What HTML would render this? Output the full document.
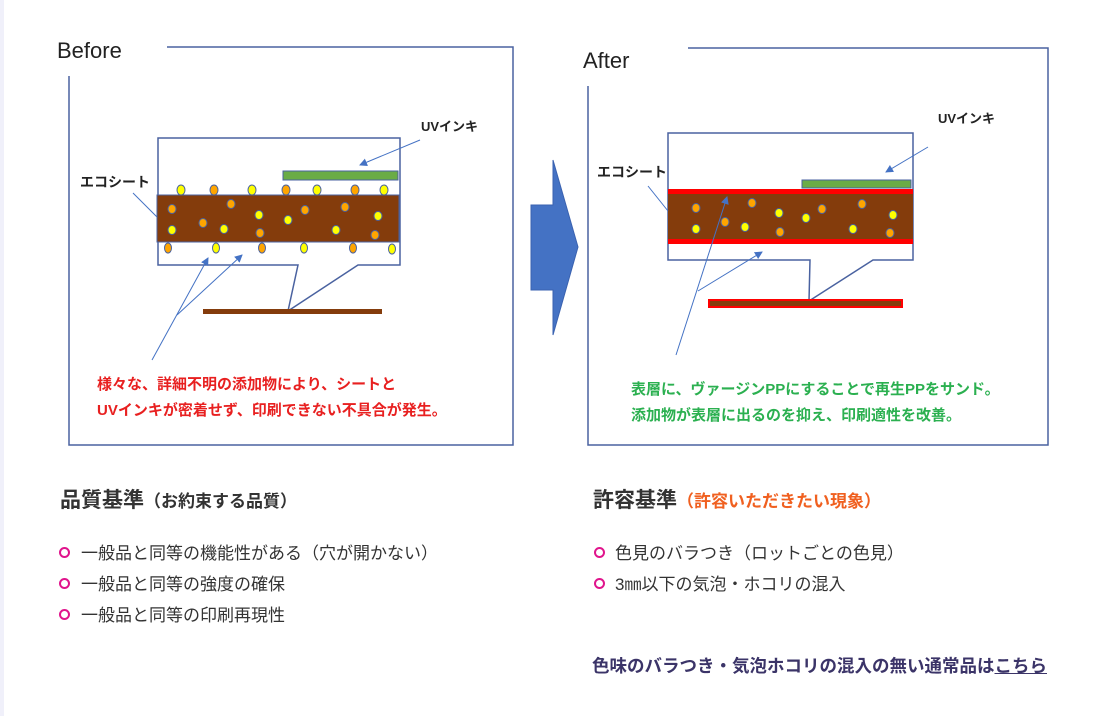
<!DOCTYPE html>
<html><head><meta charset="utf-8"><style>
html,body{margin:0;padding:0;background:#fff;}
body{width:1104px;height:716px;position:relative;overflow:hidden;font-family:"Liberation Sans","Noto Sans CJK JP",sans-serif;}
.strip{position:absolute;left:0;top:0;width:4px;height:716px;background:#f0f0fa;}
svg{position:absolute;left:0;top:0;}
.h{position:absolute;font-size:21px;font-weight:bold;color:#333;white-space:nowrap;}
.h span{font-size:17px;}
.li{position:absolute;font-size:17px;color:#333;white-space:nowrap;}
.b{position:absolute;width:7px;height:7px;border:2px solid #e0148c;border-radius:50%;}
</style></head><body>
<div class="strip"></div>
<svg width="1104" height="716" xmlns="http://www.w3.org/2000/svg" font-family="Liberation Sans, Noto Sans CJK JP, sans-serif">
<defs><marker id="a" markerWidth="8" markerHeight="8" refX="7" refY="4" orient="auto" markerUnits="userSpaceOnUse"><path d="M0,0 L8,4 L0,8z" fill="#4472c4"/></marker></defs>
<polyline points="167,47 513,47 513,445 69,445 69,76" fill="none" stroke="#4a62a0" stroke-width="1.5"/>
<text x="57" y="58" font-size="22" fill="#222">Before</text>
<polygon points="158,138 400,138 400,265 358,265 288,311 298,265 158,265" fill="#fff" stroke="#4a62a0" stroke-width="1.5"/>
<rect x="283" y="171" width="115" height="9" fill="#6aac46" stroke="#4a62a0" stroke-width="1"/>
<rect x="157" y="195" width="242" height="47" fill="#843c0c" stroke="#4a62a0" stroke-width="1"/>
<rect x="203" y="309" width="179" height="5" fill="#843c0c"/>
<g stroke="#4a62a0" stroke-width="1">
<ellipse cx="181" cy="190" rx="4" ry="5" fill="#ffff00"/><ellipse cx="214" cy="190" rx="4" ry="5" fill="#ffa500"/><ellipse cx="252" cy="190" rx="4" ry="5" fill="#ffff00"/><ellipse cx="286" cy="190" rx="4" ry="5" fill="#ffa500"/><ellipse cx="317" cy="190" rx="4" ry="5" fill="#ffff00"/><ellipse cx="355" cy="190" rx="4" ry="5" fill="#ffa500"/><ellipse cx="384" cy="190" rx="4" ry="5" fill="#ffff00"/>
<ellipse cx="172" cy="209" rx="4" ry="4.5" fill="#ffa500"/><ellipse cx="231" cy="204" rx="4" ry="4.5" fill="#ffa500"/><ellipse cx="172" cy="230" rx="4" ry="4.5" fill="#ffff00"/><ellipse cx="203" cy="223" rx="4" ry="4.5" fill="#ffa500"/><ellipse cx="224" cy="229" rx="4" ry="4.5" fill="#ffff00"/><ellipse cx="259" cy="215" rx="4" ry="4.5" fill="#ffff00"/><ellipse cx="260" cy="233" rx="4" ry="4.5" fill="#ffa500"/><ellipse cx="288" cy="220" rx="4" ry="4.5" fill="#ffff00"/><ellipse cx="305" cy="210" rx="4" ry="4.5" fill="#ffa500"/><ellipse cx="345" cy="207" rx="4" ry="4.5" fill="#ffa500"/><ellipse cx="336" cy="230" rx="4" ry="4.5" fill="#ffff00"/><ellipse cx="378" cy="216" rx="4" ry="4.5" fill="#ffff00"/><ellipse cx="375" cy="235" rx="4" ry="4.5" fill="#ffa500"/>
<ellipse cx="168" cy="248" rx="3.5" ry="5" fill="#ffa500"/><ellipse cx="216" cy="248" rx="3.5" ry="5" fill="#ffff00"/><ellipse cx="262" cy="248" rx="3.5" ry="5" fill="#ffa500"/><ellipse cx="304" cy="248" rx="3.5" ry="5" fill="#ffff00"/><ellipse cx="353" cy="248" rx="3.5" ry="5" fill="#ffa500"/><ellipse cx="392" cy="249" rx="3.5" ry="5" fill="#ffff00"/>
</g>
<g stroke="#4472c4" stroke-width="1" fill="none">
<line x1="420" y1="140" x2="360" y2="165" marker-end="url(#a)"/>
<line x1="133" y1="193" x2="157" y2="217"/>
<line x1="152" y1="360" x2="208" y2="258" marker-end="url(#a)"/>
<line x1="177" y1="315" x2="242" y2="255" marker-end="url(#a)"/>
</g>
<text x="421" y="131" font-size="13" font-weight="bold" fill="#222">UVインキ</text>
<text x="80" y="187" font-size="14" font-weight="bold" fill="#222">エコシート</text>
<text x="97" y="389" font-size="15" font-weight="bold" fill="#e82020">様々な、詳細不明の添加物により、シートと</text>
<text x="97" y="415" font-size="15" font-weight="bold" fill="#e82020">UVインキが密着せず、印刷できない不具合が発生。</text>
<polygon points="531,205 553,205 553,160 578,247 553,335 553,290 531,290" fill="#4472c4" stroke="#3a62b0"/>
<polyline points="688,48 1048,48 1048,445 588,445 588,86" fill="none" stroke="#4a62a0" stroke-width="1.5"/>
<text x="583" y="68" font-size="22" fill="#222">After</text>
<polygon points="668,133 913,133 913,260 873,260 809,301 810,260 668,260" fill="#fff" stroke="#4a62a0" stroke-width="1.5"/>
<rect x="802" y="180" width="109" height="8" fill="#6aac46" stroke="#4a62a0" stroke-width="1"/>
<rect x="668" y="194" width="245" height="45" fill="#843c0c"/>
<rect x="668" y="189" width="245" height="5" fill="#ff0000"/>
<rect x="668" y="239" width="245" height="5" fill="#ff0000"/>
<rect x="708" y="299" width="195" height="9" fill="#ff0000"/>
<rect x="710" y="301" width="191" height="5" fill="#843c0c"/>
<g stroke="#4a62a0" stroke-width="1">
<ellipse cx="696" cy="208" rx="4" ry="4.5" fill="#ffa500"/><ellipse cx="752" cy="203" rx="4" ry="4.5" fill="#ffa500"/><ellipse cx="696" cy="229" rx="4" ry="4.5" fill="#ffff00"/><ellipse cx="725" cy="222" rx="4" ry="4.5" fill="#ffa500"/><ellipse cx="745" cy="227" rx="4" ry="4.5" fill="#ffff00"/><ellipse cx="779" cy="213" rx="4" ry="4.5" fill="#ffff00"/><ellipse cx="780" cy="232" rx="4" ry="4.5" fill="#ffa500"/><ellipse cx="806" cy="218" rx="4" ry="4.5" fill="#ffff00"/><ellipse cx="822" cy="209" rx="4" ry="4.5" fill="#ffa500"/><ellipse cx="862" cy="204" rx="4" ry="4.5" fill="#ffa500"/><ellipse cx="853" cy="229" rx="4" ry="4.5" fill="#ffff00"/><ellipse cx="893" cy="215" rx="4" ry="4.5" fill="#ffff00"/><ellipse cx="890" cy="233" rx="4" ry="4.5" fill="#ffa500"/>
</g>
<g stroke="#4472c4" stroke-width="1" fill="none">
<line x1="928" y1="147" x2="886" y2="172" marker-end="url(#a)"/>
<line x1="648" y1="186" x2="668" y2="211"/>
<line x1="676" y1="355" x2="727" y2="197" marker-end="url(#a)"/>
<line x1="698" y1="291" x2="762" y2="252" marker-end="url(#a)"/>
</g>
<text x="938" y="123" font-size="13" font-weight="bold" fill="#222">UVインキ</text>
<text x="597" y="177" font-size="14" font-weight="bold" fill="#222">エコシート</text>
<text x="631" y="394" font-size="15" font-weight="bold" fill="#2bb050">表層に、ヴァージンPPにすることで再生PPをサンド。</text>
<text x="631" y="420" font-size="15" font-weight="bold" fill="#2bb050">添加物が表層に出るのを抑え、印刷適性を改善。</text>
</svg>
<div class="h" style="left:60px;top:484px;">品質基準<span>（お約束する品質）</span></div>
<div class="b" style="left:59px;top:547px"></div><div class="li" style="left:81px;top:539px">一般品と同等の機能性がある（穴が開かない）</div>
<div class="b" style="left:59px;top:578px"></div><div class="li" style="left:81px;top:570px">一般品と同等の強度の確保</div>
<div class="b" style="left:59px;top:609px"></div><div class="li" style="left:81px;top:601px">一般品と同等の印刷再現性</div>
<div class="h" style="left:593px;top:484px;">許容基準<span style="color:#f06020">（許容いただきたい現象）</span></div>
<div class="b" style="left:594px;top:547px"></div><div class="li" style="left:615px;top:539px">色見のバラつき（ロットごとの色見）</div>
<div class="b" style="left:594px;top:578px"></div><div class="li" style="left:615px;top:570px">3㎜以下の気泡・ホコリの混入</div>
<div class="li" style="left:592px;top:653px;font-size:17.5px;font-weight:bold;color:#3b3468">色味のバラつき・気泡ホコリの混入の無い通常品は<span style="text-decoration:underline">こちら</span></div>
</body></html>
